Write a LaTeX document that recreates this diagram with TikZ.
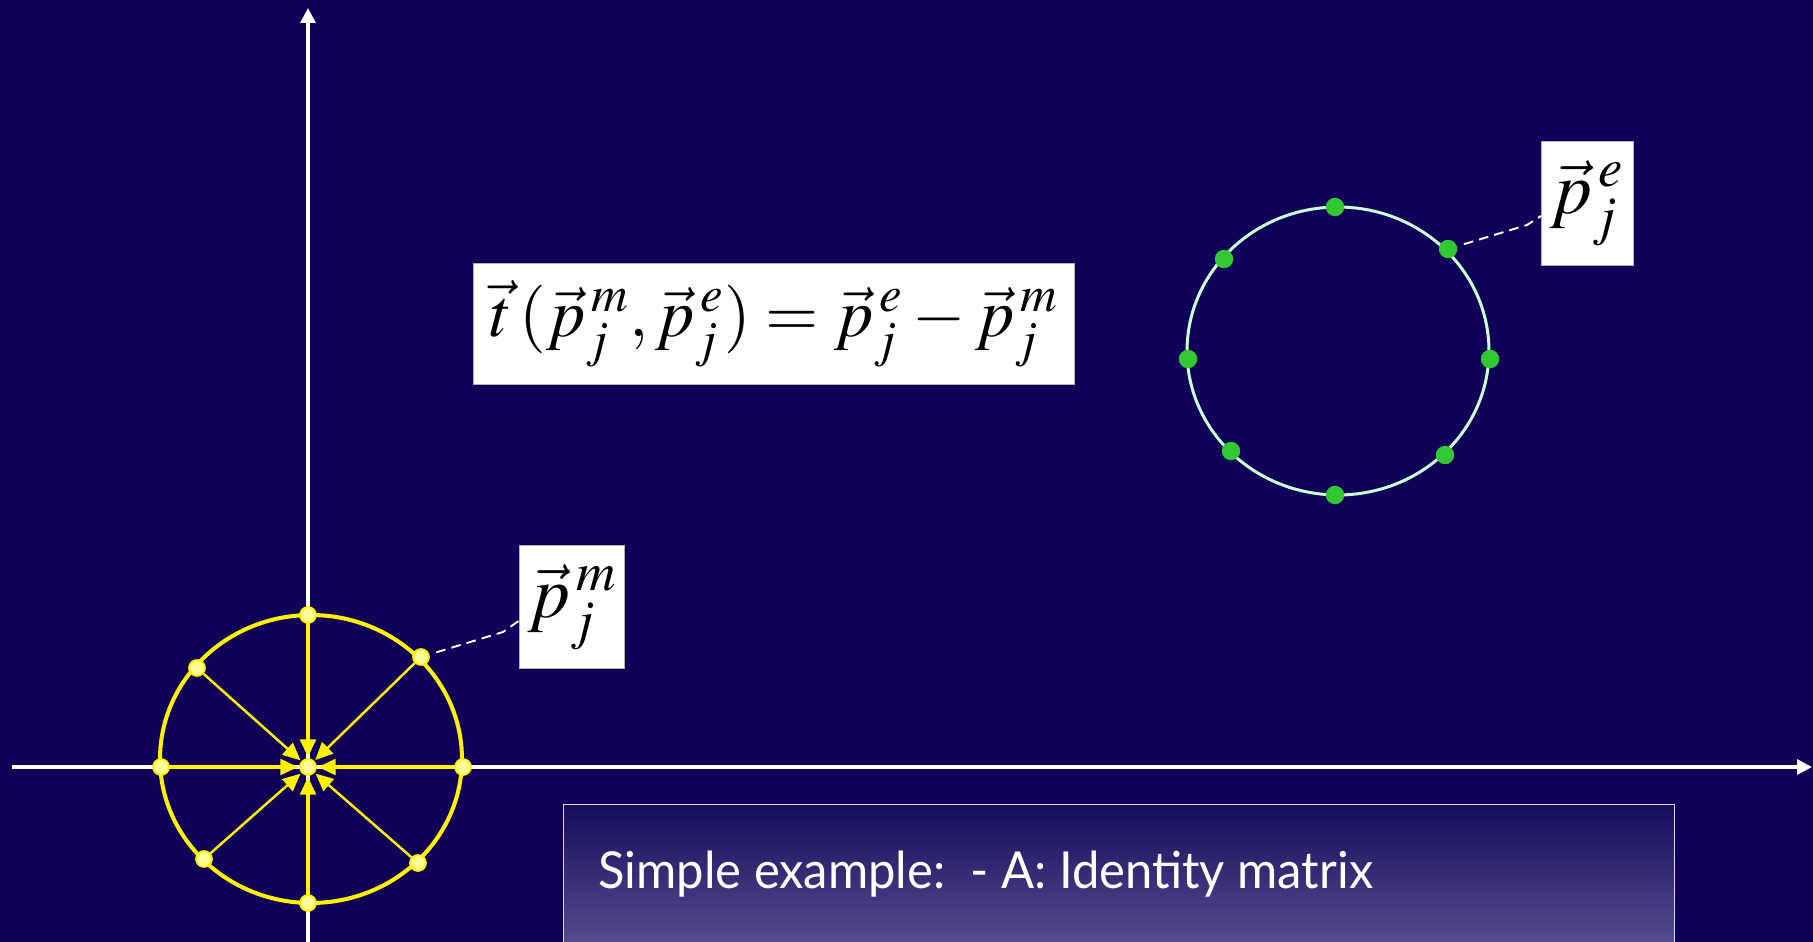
\documentclass[tikz,border=0pt]{standalone}
\usepackage{mathptmx}
\usepackage[no-math]{fontspec}
\newfontfamily\gillfont{Lato}
\usepackage{tikz}
\usetikzlibrary{positioning,arrows.meta,calc}
\definecolor{slidebg}{RGB}{16,0,88}
\definecolor{dotyellow}{RGB}{255,255,150}
\definecolor{dotgreen}{RGB}{50,200,50}
\definecolor{rimgreen}{RGB}{205,255,215}
\definecolor{boxtop}{RGB}{22,12,94}
\definecolor{boxbot}{RGB}{98,90,150}

\begin{document}
\begin{tikzpicture}[x=0.02cm, y=-0.02cm,
  axis/.style={white, line width=1.8pt, -{Triangle[length=8.5pt,width=8.5pt]}},
  ydot/.style={circle, draw=yellow, fill=dotyellow, line width=1.1pt, inner sep=0pt, minimum size=9pt},
  gdot/.style={circle, fill=dotgreen, inner sep=0pt, minimum size=10.5pt},
  yarr/.style={yellow, -{Triangle[length=10pt,width=9pt]}},
  lead/.style={white, line width=1.1pt, dash pattern=on 5.5pt off 3.5pt},
  lbl/.style={draw=gray!60, fill=white, inner sep=0pt, font=\fontsize{42}{50}\selectfont}
]
  \useasboundingbox (0,0) rectangle (1813,942);
  \clip (0,0) rectangle (1813,942);
  \fill[slidebg] (0,0) rectangle (1813,942);

  % axes
  \coordinate (xs) at (12,767);
  \coordinate (xe) at (1812,767);
  \coordinate (ys) at (308,945);
  \coordinate (ye) at (308,8);
  \draw[axis] (xs) -- (xe);
  \draw[axis] (ys) -- (ye);

  % model points
  \draw[yellow, line width=2.3pt] (311,759) ellipse [x radius=3.02cm, y radius=2.88cm];
  \node[circle, inner sep=0pt, minimum size=11pt] (o) at (308,767) {};
  \foreach \n/\px/\py in {1/308/615, 2/421/657, 3/463/767, 4/418/863,
                          5/308/903, 6/204/859, 7/161/767, 8/197/668}
    \node[ydot] (ym\n) at (\px,\py) {};
  \foreach \n in {1,3,5,7}
    \draw[yarr, line width=1.8pt] (ym\n) -- (o);
  \foreach \n in {2,4,6,8}
    \draw[yarr, line width=1.4pt] (ym\n) -- (o);
  \node[ydot] (odot) at (o) {};

  % estimated points
  \draw[rimgreen, line width=1.7pt] (1338,351) ellipse [x radius=3.02cm, y radius=2.88cm];
  \foreach \n/\px/\py in {1/1335/207, 2/1448/249, 3/1490/359, 4/1445/455,
                          5/1335/495, 6/1231/451, 7/1188/359, 8/1224/259}
    \node[gdot] (ge\n) at (\px,\py) {};

  % labels
  \node[lbl, minimum width=12.02cm, minimum height=2.42cm,
        font=\fontsize{39}{46}\selectfont] (tfm) at (774,324)
    {$\vec{t}\,(\vec{p}^{\,m}_{j},\vec{p}^{\,e}_{j})=\vec{p}^{\,e}_{j}-\vec{p}^{\,m}_{j}$};
  \node[lbl, minimum width=2.1cm, minimum height=2.46cm] (pm) at (572,607) {$\vec{p}^{\,m}_{j}$};
  \node[lbl, minimum width=1.84cm, minimum height=2.48cm] (pe) at (1587,203) {$\vec{p}^{\,e}_{j}$};

  \coordinate (pmk) at (503,632);
  \coordinate (pmin) at (520,620);
  \draw[lead, shorten <=4pt] (ym2) -- (pmk) -- (pmin);
  \coordinate (pek) at (1527,225);
  \coordinate (pein) at (1541,216);
  \draw[lead, shorten <=4pt] (ge2) -- (pek) -- (pein);

  % caption box
  \node[draw=white!85!blue, line width=0.8pt, top color=boxtop, bottom color=boxbot,
        anchor=north west, minimum width=22.22cm, minimum height=3.32cm] (note) at (563,804) {};
  \node[anchor=base west, text=white, inner sep=0pt,
        font=\gillfont\fontsize{29}{34}\selectfont] (notetxt) at (598,888)
    {\scalebox{0.96}[1]{Simple example:\ \ - A: Identity matrix}};
\end{tikzpicture}
\end{document}
